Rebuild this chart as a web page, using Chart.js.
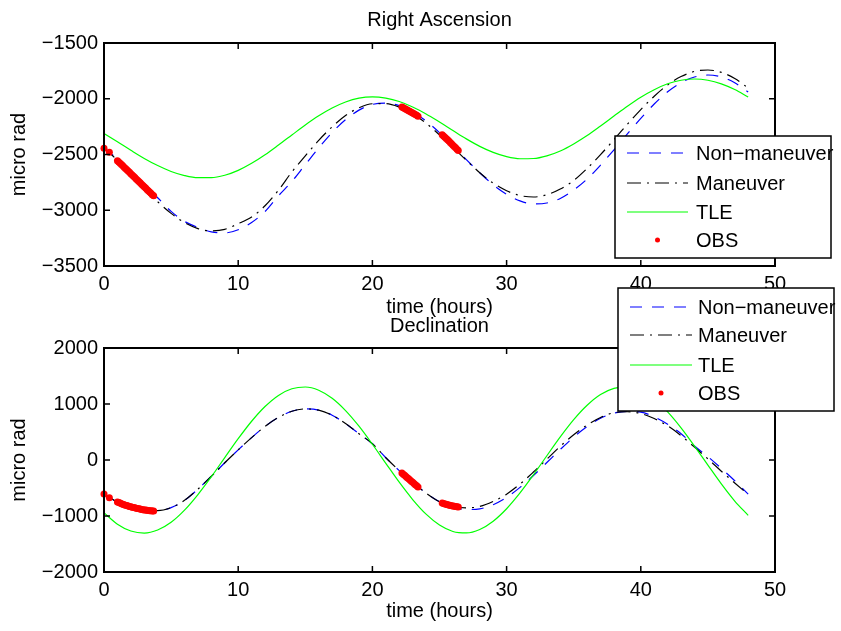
<!DOCTYPE html>
<html>
<head>
<meta charset="utf-8">
<script src="https://cdn.jsdelivr.net/npm/chart.js@4.4.0/dist/chart.umd.min.js"></script>
<style>
  html, body { margin: 0; padding: 0; background: #fff; }
  #wrap { position: relative; width: 841px; height: 631px; }
  #wrap canvas { position: absolute; left: 0; top: 0; }
</style>
</head>
<body>
<div id="wrap">
  <canvas id="raChart" width="841" height="631"></canvas>
  <canvas id="decChart" width="841" height="631"></canvas>
</div>
<script>
// time axis for the propagated curves (hours)
const hours = [0, 1, 2, 3, 4, 5, 6, 7, 8, 9, 10, 11, 12, 13, 14, 15, 16, 17, 18, 19, 20,
  21, 22, 23, 24, 25, 26, 27, 28, 29, 30, 31, 32, 33, 34, 35, 36, 37, 38, 39, 40,
  41, 42, 43, 44, 45, 46, 47, 48];

// Right Ascension (micro rad)
const raNonManeuver = [-2442, -2540, -2652, -2771, -2888, -3010, -3100, -3154, -3194, -3203,
  -3175, -3110, -3011, -2870, -2742, -2591, -2441, -2303, -2188, -2102, -2051,
  -2039, -2062, -2117, -2200, -2304, -2423, -2546, -2664, -2772, -2857,
  -2916, -2943, -2935, -2894, -2819, -2720, -2595, -2458, -2315, -2176,
  -2047, -1937, -1856, -1805, -1787, -1805, -1857, -1940];
const raManeuver = [-2442, -2552, -2678, -2805, -2924, -3028, -3111, -3165, -3185, -3171,
  -3121, -3060, -2960, -2820, -2656, -2512, -2373, -2252, -2151, -2081, -2045,
  -2044, -2075, -2135, -2220, -2324, -2437, -2552, -2663, -2757, -2825,
  -2868, -2881, -2861, -2810, -2733, -2625, -2501, -2367, -2229, -2097,
  -1977, -1876, -1801, -1755, -1742, -1763, -1818, -1904];
const raTle = [-2311, -2386, -2462, -2535, -2599, -2652, -2689, -2708, -2708, -2686,
  -2642, -2579, -2502, -2415, -2325, -2235, -2153, -2083, -2029, -1995, -1984,
  -1995, -2025, -2074, -2136, -2209, -2285, -2360, -2427, -2481, -2519,
  -2538, -2536, -2512, -2468, -2405, -2330, -2244, -2155, -2067, -1986,
  -1919, -1866, -1834, -1823, -1834, -1866, -1917, -1984];

// Declination (micro rad)
const decNonManeuver = [-607, -752, -845, -895, -905, -850, -720, -520, -290, -50,
  180, 400, 600, 760, 870, 912, 890, 800, 650, 470, 290,
  40, -190, -400, -590, -745, -835, -885, -872, -798, -668,
  -489, -277, -45, 188, 408, 598, 744, 836, 868, 855,
  770, 640, 470, 250, 60, -150, -370, -610];
const decManeuver = [-607, -752, -845, -895, -905, -850, -720, -520, -290, -50,
  180, 400, 600, 760, 870, 912, 890, 800, 650, 470, 290,
  40, -190, -400, -590, -745, -830, -855, -830, -740, -610,
  -430, -215, 15, 245, 450, 625, 760, 845, 862, 830,
  740, 610, 435, 230, 20, -200, -410, -615];
const decTle = [-943, -1146, -1268, -1305, -1250, -1112, -895, -617, -298, 43,
  380, 692, 955, 1154, 1272, 1304, 1246, 1101, 882, 603, 281,
  -59, -397, -706, -967, -1161, -1276, -1303, -1241, -1093, -870,
  -588, -265, 76, 412, 720, 977, 1169, 1279, 1302, 1236,
  1085, 859, 574, 249, -91, -427, -733, -988];

// observations
const obsHours = [0, 0.4, 1.0, 1.1, 1.2, 1.3, 1.4, 1.5, 1.6, 1.7, 1.8, 1.9, 2.0, 2.1, 2.2,
  2.3, 2.4, 2.5, 2.6, 2.7, 2.8, 2.9, 3.0, 3.1, 3.2, 3.3, 3.4, 3.5, 3.6, 3.7,
  22.2, 22.3, 22.4, 22.5, 22.6, 22.7, 22.8, 22.9, 23.0, 23.1, 23.2, 23.3, 23.4,
  25.2, 25.3, 25.4, 25.5, 25.6, 25.7, 25.8, 25.9, 26.0, 26.1, 26.2, 26.3, 26.4];
const raObs = [-2444, -2480, -2555, -2567, -2578, -2590, -2602, -2614, -2625, -2637, -2649,
  -2660, -2672, -2684, -2696, -2707, -2719, -2731, -2742, -2754, -2766, -2778,
  -2789, -2801, -2813, -2824, -2836, -2848, -2860, -2871,
  -2074, -2080, -2087, -2094, -2100, -2107, -2114, -2121, -2128, -2135, -2142, -2149, -2156,
  -2322, -2333, -2345, -2356, -2368, -2380, -2392, -2404, -2416, -2428, -2440, -2452, -2464];
const decObs = [-607, -673, -750, -760, -770, -780, -789, -798, -806, -814, -822,
  -829, -836, -842, -848, -854, -860, -866, -872, -877, -882, -887,
  -891, -895, -899, -902, -905, -908, -910, -911,
  -232, -253, -274, -295, -316, -336, -357, -378, -399, -420, -440, -461, -482,
  -768, -776, -784, -791, -798, -805, -811, -817, -822, -827, -832, -836, -839];

const seriesNames = ['Non\u2212maneuver', 'Maneuver', 'TLE', 'OBS'];

Chart.defaults.font.family = "'Liberation Sans', Arial, Helvetica, sans-serif";
Chart.defaults.font.size = 20;
Chart.defaults.color = '#000';

function pairs(xs, ys) {
  return xs.map((x, i) => ({ x: x, y: ys[i] }));
}

function minusLabel(v) {
  return v < 0 ? '\u2212' + Math.abs(v) : String(v);
}

// matlab style box with inward ticks + boxed legend
const matlabFrame = {
  id: 'matlabFrame',
  afterDraw(chart, args, opts) {
    const { ctx, chartArea: a, scales } = chart;
    const t = 6;
    ctx.save();
    ctx.strokeStyle = '#000';
    ctx.lineWidth = 1.5;
    ctx.setLineDash([]);
    ctx.beginPath();
    scales.x.ticks.forEach(tk => {
      const px = scales.x.getPixelForValue(tk.value);
      ctx.moveTo(px, a.bottom); ctx.lineTo(px, a.bottom - t);
      ctx.moveTo(px, a.top); ctx.lineTo(px, a.top + t);
    });
    scales.y.ticks.forEach(tk => {
      const py = scales.y.getPixelForValue(tk.value);
      ctx.moveTo(a.left, py); ctx.lineTo(a.left + t, py);
      ctx.moveTo(a.right, py); ctx.lineTo(a.right - t, py);
    });
    ctx.stroke();
    ctx.lineWidth = 2;
    ctx.strokeRect(a.left, a.top, a.right - a.left, a.bottom - a.top);

    const L = opts.legend;
    if (L) {
      ctx.fillStyle = '#fff';
      ctx.fillRect(L.x, L.y, L.w, L.h);
      ctx.lineWidth = 1.5;
      ctx.strokeRect(L.x, L.y, L.w, L.h);
      ctx.font = "20px 'Liberation Sans', Arial, sans-serif";
      ctx.textBaseline = 'middle';
      ctx.textAlign = 'left';
      chart.data.datasets.forEach((ds, i) => {
        const y = L.rows[i];
        if (ds.showLine === false) {
          ctx.fillStyle = ds.pointBackgroundColor;
          ctx.beginPath();
          ctx.arc((L.x0 + L.x1) / 2, y, 2.5, 0, Math.PI * 2);
          ctx.fill();
        } else {
          ctx.strokeStyle = ds.borderColor;
          ctx.lineWidth = ds.borderWidth;
          ctx.setLineDash(ds.borderDash || []);
          ctx.beginPath();
          ctx.moveTo(L.x0, y); ctx.lineTo(L.x1, y);
          ctx.stroke();
          ctx.setLineDash([]);
        }
        ctx.fillStyle = '#000';
        ctx.fillText(ds.label, L.tx, y + 1);
      });
    }
    ctx.restore();
  }
};

function makeDatasets(nonMan, man, tle, obs) {
  return [
    { label: seriesNames[0], data: pairs(hours, nonMan), borderColor: '#0000ff', borderWidth: 1.2,
      borderDash: [12, 10], pointRadius: 0, cubicInterpolationMode: 'monotone', order: 4 },
    { label: seriesNames[1], data: pairs(hours, man), borderColor: '#000000', borderWidth: 1.2,
      borderDash: [14, 6, 2, 6], pointRadius: 0, cubicInterpolationMode: 'monotone', order: 3 },
    { label: seriesNames[2], data: pairs(hours, tle), borderColor: '#00ff00', borderWidth: 1.2,
      pointRadius: 0, cubicInterpolationMode: 'monotone', order: 2 },
    { label: seriesNames[3], data: pairs(obsHours, obs), showLine: false, pointRadius: 3.5,
      pointBackgroundColor: '#ff0000', pointBorderWidth: 0, borderColor: '#ff0000',
      clip: 6, order: 1 }
  ];
}

function makeChart(id, cfg) {
  return new Chart(document.getElementById(id), {
    type: 'line',
    data: { datasets: cfg.datasets },
    options: {
      responsive: false,
      animation: false,
      devicePixelRatio: 1,
      layout: { padding: cfg.padding },
      plugins: {
        legend: { display: false },
        tooltip: { enabled: false },
        title: {
          display: true, text: cfg.title, fullSize: false, color: '#000',
          font: { size: 20, weight: 'normal' }, padding: cfg.titlePad
        },
        matlabFrame: { legend: cfg.legend }
      },
      scales: {
        x: {
          type: 'linear', min: 0, max: 50,
          ticks: { stepSize: 10, padding: 6, maxRotation: 0, color: '#000' },
          grid: { display: false, drawTicks: false },
          border: { display: false },
          title: { display: true, text: 'time (hours)', color: '#000',
            padding: { top: 0, bottom: cfg.xTitlePad } },
          afterFit: s => { s.height = cfg.xHeight; }
        },
        y: {
          min: cfg.yMin, max: cfg.yMax,
          ticks: { stepSize: cfg.yStep, padding: 6, color: '#000', callback: minusLabel },
          grid: { display: false, drawTicks: false },
          border: { display: false },
          title: { display: true, text: 'micro rad', color: '#000', padding: { top: 7, bottom: 0 } },
          afterFit: s => { s.width = 104; }
        }
      }
    },
    plugins: [matlabFrame]
  });
}

makeChart('raChart', {
  title: 'Right Ascension',
  datasets: makeDatasets(raNonManeuver, raManeuver, raTle, raObs),
  yMin: -3500, yMax: -1500, yStep: 500,
  padding: { left: 0, right: 66, top: 0, bottom: 305 },
  titlePad: { top: 8.3, bottom: 10.7 },
  xHeight: 60, xTitlePad: 7,
  legend: { x: 615, y: 136, w: 216, h: 122, rows: [153, 183, 212, 240], x0: 627, x1: 688, tx: 696 }
});

makeChart('decChart', {
  title: 'Declination',
  datasets: makeDatasets(decNonManeuver, decManeuver, decTle, decObs),
  yMin: -2000, yMax: 2000, yStep: 1000,
  padding: { left: 0, right: 66, top: 310, bottom: 4 },
  titlePad: { top: 4, bottom: 10 },
  xHeight: 55, xTitlePad: 4,
  legend: { x: 618, y: 288, w: 216, h: 123, rows: [307, 335, 365, 393], x0: 630, x1: 692, tx: 698 }
});
</script>
</body>
</html>
